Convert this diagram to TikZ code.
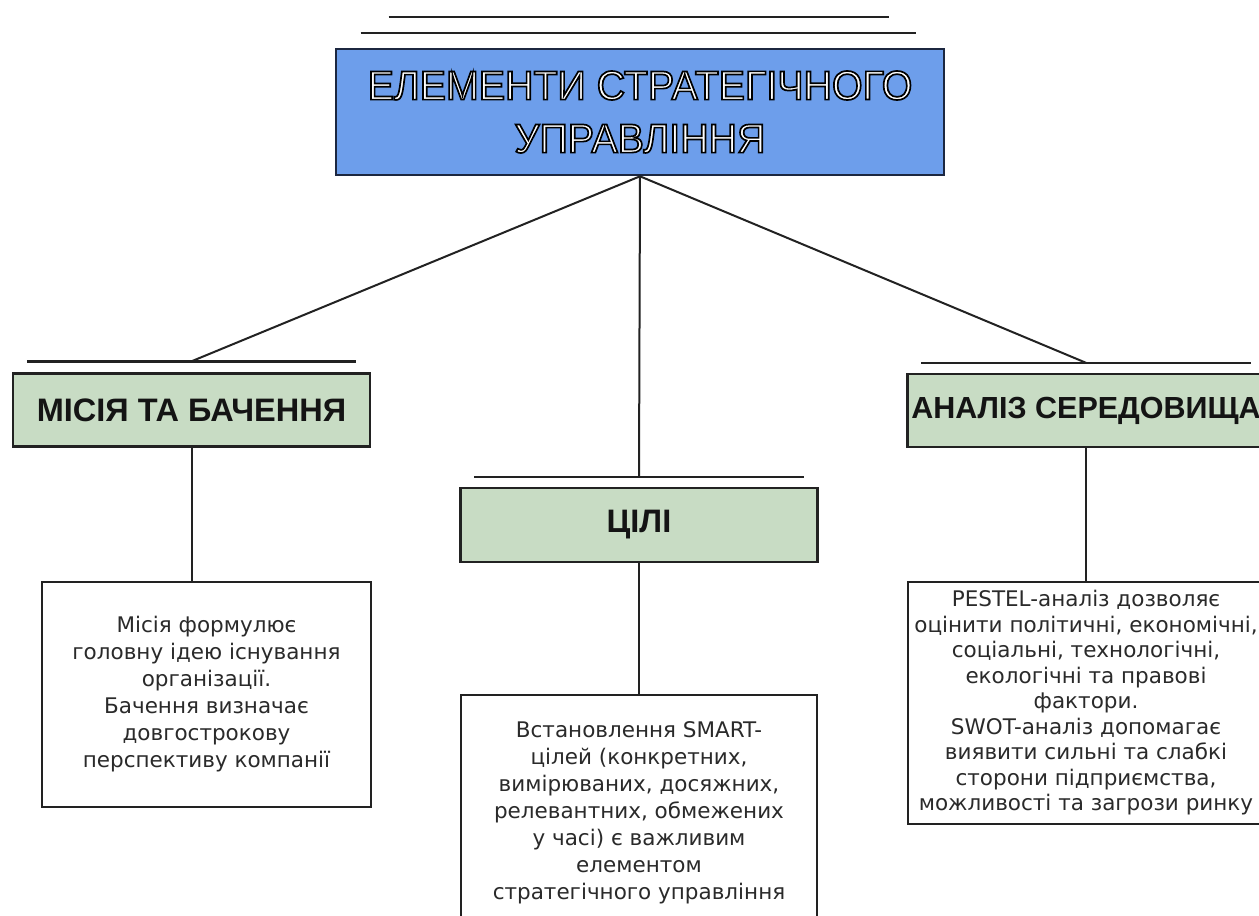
\documentclass[tikz,border=0pt]{standalone}
\usepackage{fontspec}
\setmainfont{DejaVu Sans}
\newfontfamily\titlefont{Liberation Sans}[FakeStretch=0.96]
\newfontfamily\headfont{Liberation Sans}
\definecolor{titleblue}{HTML}{6D9EEB}
\definecolor{navy}{HTML}{1C2740}
\definecolor{sage}{HTML}{C8DCC4}
\definecolor{boxline}{HTML}{222222}
\definecolor{bodytext}{HTML}{2A2A2A}
% white letters with a black outline
\newcommand{\outlined}[1]{\special{pdf:literal direct 2 Tr 1.7 w 0 0 0 RG}#1\special{pdf:literal direct 0 Tr}}

\begin{document}
\begin{tikzpicture}[x=1pt,y=-1pt,
    titlebox/.style={draw=navy, line width=2.6pt, fill=titleblue, minimum width=608pt, minimum height=126pt, inner sep=0pt, align=center, text=white, font=\titlefont\fontsize{41}{53}\selectfont},
    headbox/.style={draw=boxline, line width=2.4pt, fill=sage, minimum width=357pt, minimum height=73pt, inner sep=0pt, text=black!92, font=\headfont\bfseries\fontsize{32.5}{38}\selectfont},
    descbox/.style={draw=boxline, line width=2.2pt, fill=white, inner sep=0pt, align=center, text=bodytext, font=\fontsize{21.5}{27}\selectfont},
    barline/.style={line width=2.4pt, draw=boxline},
    link/.style={line width=2pt, draw=boxline}]
    \useasboundingbox (0,0) rectangle (1259,916);

    % title
    \node[titlebox] (top) at (640,112) {\outlined{ЕЛЕМЕНТИ СТРАТЕГІЧНОГО}\\\outlined{УПРАВЛІННЯ}};
    \draw[barline] ([xshift=54pt,yshift=31pt]top.north west) -- ([xshift=-56pt,yshift=31pt]top.north east);
    \draw[barline] ([xshift=26pt,yshift=15pt]top.north west) -- ([xshift=-29pt,yshift=15pt]top.north east);

    % mission
    \node[headbox] (mis) at (191.5,410) {МІСІЯ ТА БАЧЕННЯ};
    \draw[barline] ([xshift=15pt,yshift=11pt]mis.north west) -- ([xshift=-15pt,yshift=11pt]mis.north east);
    \node[descbox, minimum width=329pt, minimum height=225pt] (misdesc) at (206.5,694.5)
        {Місія формулює\\головну ідею існування\\організації.\\Бачення визначає\\довгострокову\\перспективу компанії};

    % goals
    \node[headbox, minimum height=74pt] (goals) at (639,525) {ЦІЛІ};
    \draw[barline] ([xshift=15pt,yshift=10pt]goals.north west) -- ([xshift=-15pt,yshift=10pt]goals.north east);
    \node[descbox, minimum width=356pt, minimum height=236pt] (goaldesc) at (639,813)
        {Встановлення SMART-\\цілей (конкретних,\\вимірюваних, досяжних,\\релевантних, обмежених\\у часі) є важливим\\елементом\\стратегічного управління};

    % environment
    \node[headbox, font=\headfont\bfseries\fontsize{30.5}{36}\selectfont] (env) at (1086,410.5) {АНАЛІЗ СЕРЕДОВИЩА};
    \draw[barline] ([xshift=15pt,yshift=10pt]env.north west) -- ([xshift=-15pt,yshift=10pt]env.north east);
    \node[descbox, minimum width=356pt, minimum height=242pt, font=\fontsize{21.5}{25.5}\selectfont] (envdesc) at (1086,703)
        {PESTEL-аналіз дозволяє\\оцінити політичні, економічні,\\соціальні, технологічні,\\екологічні та правові\\фактори.\\SWOT-аналіз допомагає\\виявити сильні та слабкі\\сторони підприємства,\\можливості та загрози ринку};

    % links
    \draw[link] (top.south) -- ([yshift=11pt]mis.north);
    \draw[link] (top.south) -- ([yshift=10pt]goals.north);
    \draw[link] (top.south) -- ([yshift=10pt]env.north);
    \draw[link] (mis.south) -- (mis.south |- misdesc.north);
    \draw[link] (goals.south) -- (goaldesc.north);
    \draw[link] (env.south) -- (envdesc.north);
\end{tikzpicture}
\end{document}
